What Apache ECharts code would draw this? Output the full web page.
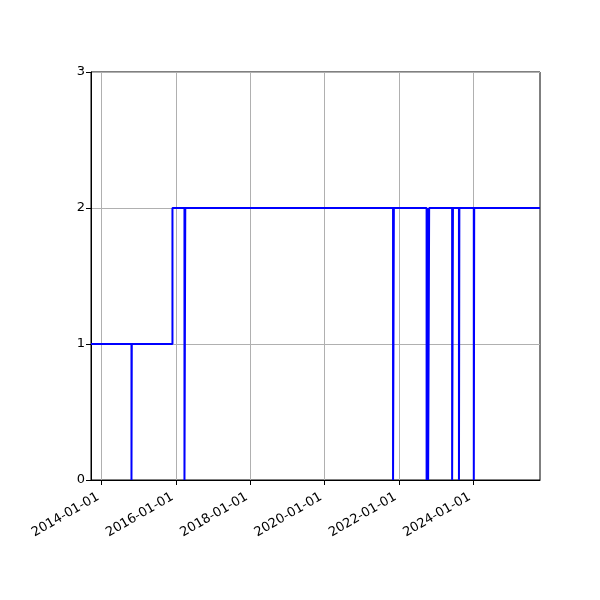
<!DOCTYPE html>
<html>
<head>
<meta charset="utf-8">
<script src="https://cdn.jsdelivr.net/npm/echarts@6/dist/echarts.min.js"></script>
<style>html,body{margin:0;padding:0;background:#fff}#c{width:600px;height:600px}</style>
</head>
<body>
<div id="c"></div>
<script>
const dates = ['2013-09-18','2014-10-21','2014-10-24','2015-11-28','2016-03-25','2016-04-02',
  '2021-11-05','2021-11-13','2022-10-01','2022-10-11','2022-10-16','2022-10-26',
  '2023-06-09','2023-06-17','2023-08-15','2023-08-19','2024-01-08','2024-01-12','2025-10-20'];
const values = [1,0,1,2,0,2,0,2,0,2,0,2,0,2,0,2,0,2,2];
const xTicks = ['2014-01-01','2016-01-01','2018-01-01','2020-01-01','2022-01-01','2024-01-01'];
const yTicks = [0,1,2,3];

const toMs = (s)=>Date.parse(s + 'T00:00:00Z');
const pad = (n)=>String(n).padStart(2,'0');
const fmt = (v)=>{const d=new Date(v);return d.getUTCFullYear()+'-'+pad(d.getUTCMonth()+1)+'-'+pad(d.getUTCDate());};
const data = dates.map((d,i)=>[toMs(d), values[i]]);
const xTickMs = xTicks.map(toMs);
const font = 'DejaVu Sans';
const chart = echarts.init(document.getElementById('c'));
chart.setOption({
  animation:false,
  grid:{left:91,right:60,top:72,bottom:120,show:true,borderColor:'#000',borderWidth:1,backgroundColor:'transparent'},
  xAxis:{
    type:'value', min:toMs(dates[0]), max:toMs(dates[dates.length-1]),
    axisLine:{show:true,onZero:false,lineStyle:{color:'#000',width:1}},
    axisTick:{show:true,inside:false,length:5,lineStyle:{color:'#000'},customValues:xTickMs},
    axisLabel:{customValues:xTickMs,rotate:30,margin:14,padding:[0,4,0,0],color:'#000',fontFamily:font,fontSize:13,
      formatter:fmt, showMinLabel:true, showMaxLabel:true},
    splitLine:{show:true,lineStyle:{color:'#b0b0b0',width:1}}
  },
  yAxis:{
    type:'value', min:yTicks[0], max:yTicks[yTicks.length-1], interval:1,
    axisLine:{show:true,lineStyle:{color:'#000',width:1}},
    axisTick:{show:true,inside:false,length:5,lineStyle:{color:'#000'}},
    axisLabel:{margin:6,color:'#000',fontFamily:font,fontSize:13},
    splitLine:{show:true,lineStyle:{color:'#b0b0b0',width:1}}
  },
  series:[{
    type:'line', step:'end', data:data, showSymbol:false, symbol:'none',
    lineStyle:{color:'#0000ff',width:2}, clip:true
  }]
});
</script>
</body>
</html>
